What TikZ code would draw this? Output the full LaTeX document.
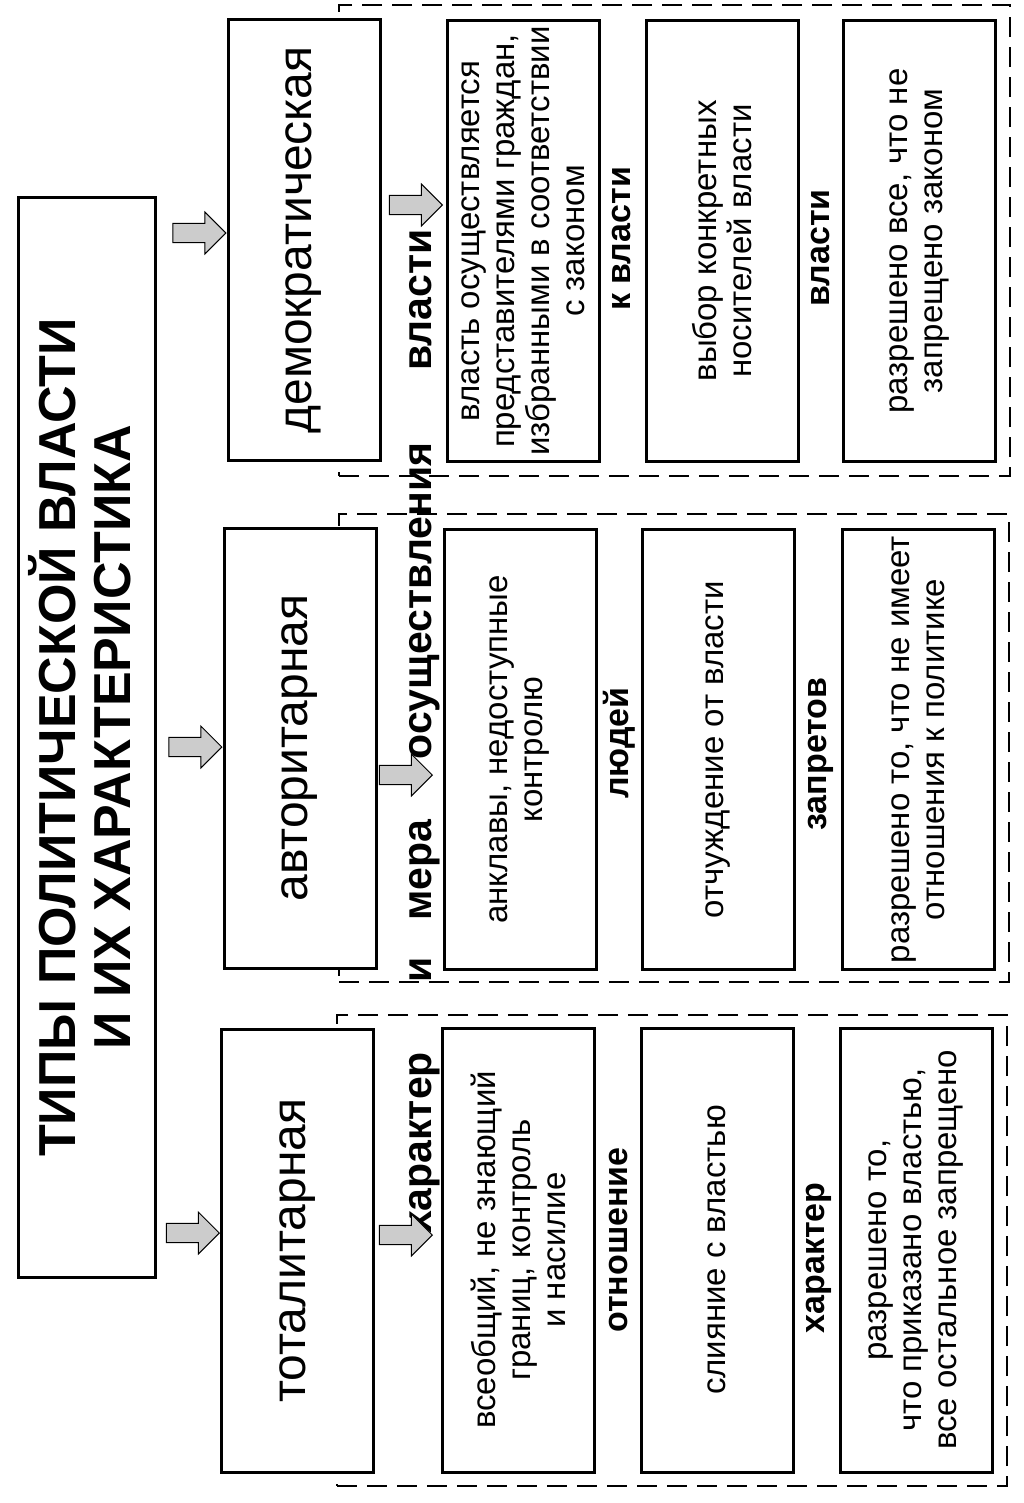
\documentclass[tikz,border=0pt]{standalone}
\usepackage{fontspec}
\setmainfont{Liberation Sans}
\usetikzlibrary{shapes.arrows,positioning}

\begin{document}
\begin{tikzpicture}[x=1pt, y=-1pt,
    colframe/.style={draw, dashed, line width=2.5pt, dash pattern=on 20pt off 10pt, inner sep=0pt},
    titlebox/.style={draw, line width=3pt, rotate=90, minimum width=1079pt, minimum height=137pt, inner sep=0pt},
    titletext/.style={rotate=90, align=center, inner sep=0pt, font=\bfseries\fontsize{52}{55}\selectfont},
    typebox/.style={draw, line width=3pt, fill=white, rotate=90, minimum width=440pt, minimum height=152pt, inner sep=0pt, font=\fontsize{48}{56}\selectfont},
    cell/.style={draw, line width=3pt, fill=white, rotate=90, minimum width=440pt, minimum height=152pt, align=center, inner sep=0pt, font=\fontsize{33}{35}\selectfont},
    rowlabel/.style={rotate=90, anchor=base, inner sep=0pt, font=\bfseries\fontsize{34}{40}\selectfont},
    bigrow/.style={rowlabel, font=\bfseries\fontsize{41}{48}\selectfont},
    fatarrow/.style={single arrow, draw, line width=1pt, fill=gray!40, minimum height=53pt, minimum width=42pt, single arrow head extend=11pt, inner sep=9pt, anchor=tip}
]
    \useasboundingbox (0,0) rectangle (1024,1503);

    \node[colframe, minimum width=671pt, minimum height=471pt] (demframe) at (674.5,240.5) {};
    \node[colframe, minimum width=670pt, minimum height=468pt] (autframe) at (674,748) {};
    \node[colframe, minimum width=670pt, minimum height=471pt] (totframe) at (672,1250.5) {};

    \node[titlebox] (title) at (86.5,737.5) {};
    \node[titletext] (titletext) at (80,737.5) {ТИПЫ ПОЛИТИЧЕСКОЙ ВЛАСТИ\\И ИХ ХАРАКТЕРИСТИКА};

    \node[typebox] (demtype) at (304,240) {демократическая};
    \node[typebox] (auttype) at (300,748) {авторитарная};
    \node[typebox, minimum width=443pt] (tottype) at (297.5,1250.5) {тоталитарная};

    \node[fatarrow] (demarrow) at (demtype.north |- 0,233) {};
    \node[fatarrow] (autarrow) at (auttype.north |- 0,747) {};
    \node[fatarrow] (totarrow) at (tottype.north |- 0,1233) {};

    \node[cell] (demform) at (523,241) {власть осуществляется\\представителями граждан,\\избранными в соответствии\\с законом};
    \node[cell] (dempeople) at (722,241) {выбор конкретных\\носителей власти};
    \node[cell] (demban) at (919.5,241) {разрешено все, что не\\запрещено законом};

    \node[cell] (autform) at (520,749.5) {анклавы, недоступные\\контролю};
    \node[cell] (autpeople) at (718.5,749.5) {отчуждение от власти};
    \node[cell] (autban) at (918,749.5) {разрешено то, что не имеет\\отношения к политике};

    \node[cell, minimum width=444pt] (totform) at (518.5,1250) {всеобщий, не знающий\\границ, контроль\\и насилие};
    \node[cell, minimum width=444pt] (totpeople) at (717,1250) {слияние с властью};
    \node[cell, minimum width=444pt] (totban) at (916,1250) {разрешено то,\\что приказано властью,\\все остальное запрещено};

    \node[bigrow] (lab1a) at (431,1143) {характер};
    \node[bigrow] (lab1b) at (431,970) {и};
    \node[bigrow] (lab1c) at (431,870) {мера};
    \node[bigrow] (lab1d) at (431,601) {осуществления};
    \node[bigrow] (lab1e) at (431,300) {власти};

    \node[fatarrow] (demarrow1) at (443,205) {};
    \node[fatarrow] (autarrow1) at (433,775) {};
    \node[fatarrow] (totarrow1) at (433,1235) {};

    \node[rowlabel] (lab2a) at (627,1240) {отношение};
    \node[rowlabel] (lab2b) at (628,743) {людей};
    \node[rowlabel] (lab2c) at (630,239) {к власти};

    \node[rowlabel] (lab3a) at (824,1258) {характер};
    \node[rowlabel] (lab3b) at (826,754) {запретов};
    \node[rowlabel] (lab3c) at (829,248) {власти};
\end{tikzpicture}
\end{document}
